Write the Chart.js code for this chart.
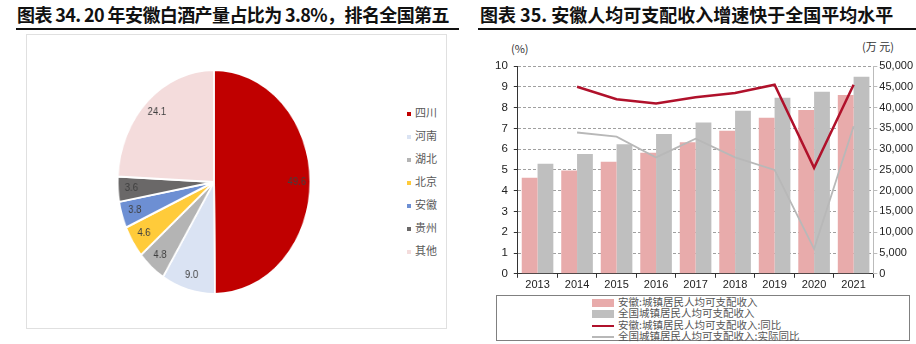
<!DOCTYPE html>
<html lang="zh">
<head>
  <meta charset="UTF-8">
  <title>安徽白酒与人均可支配收入</title>
  <script src="https://cdn.jsdelivr.net/npm/chart.js"></script>
  <style>
    body {
      margin: 0;
      width: 916px;
      height: 344px;
      background: #fff;
      position: relative;
      overflow: hidden;
      font-family: "Noto Sans CJK SC", "Liberation Sans", sans-serif;
    }
    .title {
      position: absolute;
      top: 1px;
      font-size: 18px;
      font-weight: bold;
      color: #111;
      white-space: nowrap;
    }
    .rule {
      position: absolute;
      top: 28px;
      height: 2px;
      background: #111;
    }
    #pieBox {
      position: absolute;
      left: 26px;
      top: 34px;
      width: 421px;
      height: 295px;
      border: 1px solid #e0e0e0;
      box-sizing: border-box;
    }
    #pieChart {
      position: absolute;
      left: 99px;
      top: 67px;
      transform: scaleX(0.86);
      transform-origin: center center;
    }
    #pieLegend {
      position: absolute;
      left: 407px;
      top: 104px;
      font-size: 11px;
      color: #595959;
    }
    #pieLegend div {
      height: 23px;
      line-height: 17px;
      white-space: nowrap;
    }
    #pieLegend span.sw {
      display: inline-block;
      width: 4px;
      height: 4px;
      margin-right: 4px;
      vertical-align: middle;
    }
    #barWrap {
      position: absolute;
      left: 488px;
      top: 36px;
    }
    .unit {
      position: absolute;
      font-size: 11px;
      color: #333;
    }
    #barLegend {
      position: absolute;
      left: 496px;
      top: 295px;
      width: 414px;
      height: 46px;
      border: 1.5px solid #808080;
      box-sizing: border-box;
      font-size: 10.5px;
      color: #555;
    }
    #barLegend div {
      height: 11.3px;
      line-height: 11.3px;
      padding-left: 95px;
      white-space: nowrap;
    }
    #barLegend span.sw {
      display: inline-block;
      width: 22px;
      margin-right: 4px;
      vertical-align: middle;
    }
  </style>
</head>
<body>

  <div class="title" style="left:17px; letter-spacing:-0.6px">图表 34. 20 年安徽白酒产量占比为 3.8%，排名全国第五</div>
  <div class="rule" style="left:16px; width:443px"></div>
  <div id="pieBox"></div>
  <canvas id="pieChart" width="230" height="230"></canvas>
  <div id="pieLegend"></div>

  <div class="title" style="left:480px">图表 35. 安徽人均可支配收入增速快于全国平均水平</div>
  <div class="rule" style="left:478px; width:438px"></div>
  <div class="unit" style="left:511px; top:40px">(%)</div>
  <div class="unit" style="left:862px; top:38px">(万 元)</div>
  <div id="barWrap"><canvas id="barChart" width="428" height="257"></canvas></div>
  <div id="barLegend"></div>

  <script>
    // 图表34：白酒产量占比（%）
    const provinces = ['四川', '河南', '湖北', '北京', '安徽', '贵州', '其他'];
    const shares = [49.6, 9.0, 4.8, 4.6, 3.8, 3.6, 24.1];
    const pieColors = ['#c00000', '#dae3f3', '#b4b4b4', '#ffcb3a', '#6d8fd3', '#6a6868', '#f4dcdc'];

    // 图表35：人均可支配收入（元）与增速（%）
    const years = ['2013', '2014', '2015', '2016', '2017', '2018', '2019', '2020', '2021'];
    const anhuiIncome = [23114, 24839, 26936, 29156, 31640, 34393, 37540, 39442, 43009];
    const chinaIncome = [26467, 28844, 31195, 33616, 36396, 39251, 42359, 43834, 47412];
    const anhuiGrowth = [null, 9.0, 8.4, 8.2, 8.5, 8.7, 9.1, 5.1, 9.1];
    const chinaRealGrowth = [null, 6.8, 6.6, 5.6, 6.5, 5.6, 5.0, 1.2, 7.1];
    const seriesNames = [
      '安徽:城镇居民人均可支配收入',
      '全国城镇居民人均可支配收入',
      '安徽:城镇居民人均可支配收入:同比',
      '全国城镇居民人均可支配收入:实际同比'
    ];
    const seriesColors = ['#e8abab', '#bfbfbf', '#b0112b', '#b8b8b8'];

    // 饼图数值标签
    const sliceLabels = {
      id: 'sliceLabels',
      afterDatasetsDraw(chart) {
        const ctx = chart.ctx;
        const meta = chart.getDatasetMeta(0);
        ctx.save();
        ctx.font = '11px "Liberation Sans", sans-serif';
        ctx.fillStyle = '#404040';
        ctx.textAlign = 'center';
        ctx.textBaseline = 'middle';
        meta.data.forEach((arc, i) => {
          const mid = (arc.startAngle + arc.endAngle) / 2;
          const r = arc.outerRadius * 0.86;
          ctx.fillText(shares[i].toFixed(1), arc.x + Math.cos(mid) * r, arc.y + Math.sin(mid) * r);
        });
        ctx.restore();
      }
    };

    new Chart(document.getElementById('pieChart'), {
      type: 'pie',
      data: {
        labels: provinces,
        datasets: [{
          data: shares,
          backgroundColor: pieColors,
          borderColor: '#ffffff',
          borderWidth: 2
        }]
      },
      options: {
        responsive: false,
        animation: false,
        layout: { padding: 2 },
        plugins: { legend: { display: false }, tooltip: { enabled: false } }
      },
      plugins: [sliceLabels]
    });

    const pieLegend = document.getElementById('pieLegend');
    provinces.forEach((p, i) => {
      const row = document.createElement('div');
      row.innerHTML = '<span class="sw" style="background:' + pieColors[i] + '"></span>' + p;
      pieLegend.appendChild(row);
    });

    const tickFont = { family: 'Liberation Sans', size: 11 };

    new Chart(document.getElementById('barChart'), {
      data: {
        labels: years,
        datasets: [
          { type: 'line', label: seriesNames[2], data: anhuiGrowth, yAxisID: 'y', borderColor: seriesColors[2], borderWidth: 2.5, pointRadius: 0, order: 0 },
          { type: 'line', label: seriesNames[3], data: chinaRealGrowth, yAxisID: 'y', borderColor: seriesColors[3], borderWidth: 1.8, pointRadius: 0, order: 1 },
          { type: 'bar', label: seriesNames[0], data: anhuiIncome, yAxisID: 'y1', backgroundColor: seriesColors[0], order: 2, categoryPercentage: 0.8, barPercentage: 1.0 },
          { type: 'bar', label: seriesNames[1], data: chinaIncome, yAxisID: 'y1', backgroundColor: seriesColors[1], order: 2, categoryPercentage: 0.8, barPercentage: 1.0 }
        ]
      },
      options: {
        responsive: false,
        animation: false,
        layout: { padding: { top: 30, right: 1, left: 1, bottom: 0 } },
        plugins: { legend: { display: false }, tooltip: { enabled: false } },
        scales: {
          x: {
            offset: true,
            grid: { display: true, drawOnChartArea: false, offset: true, tickLength: 4, color: '#333' },
            border: { color: '#333' },
            ticks: { color: '#222', font: tickFont, padding: 1, maxRotation: 0 }
          },
          y: {
            position: 'left',
            min: 0,
            max: 10,
            ticks: { stepSize: 1, color: '#222', font: { family: 'Liberation Sans', size: 11.5 }, padding: 6 },
            grid: { color: '#a0a0a0', tickColor: '#333', tickLength: 4 },
            border: { color: '#333', dash: [3, 2] }
          },
          y1: {
            position: 'right',
            min: 0,
            max: 50000,
            ticks: { stepSize: 5000, color: '#222', font: tickFont, padding: 2 },
            grid: { drawOnChartArea: false, color: '#bbb', tickLength: 4 },
            border: { color: '#bbb' }
          }
        }
      }
    });

    const barLegend = document.getElementById('barLegend');
    seriesNames.forEach((name, i) => {
      const row = document.createElement('div');
      const h = i < 2 ? 8 : (i === 2 ? 2.5 : 1.5);
      row.innerHTML = '<span class="sw" style="height:' + h + 'px;background:' + seriesColors[i] + '"></span>' + name;
      barLegend.appendChild(row);
    });
  </script>

</body>
</html>
